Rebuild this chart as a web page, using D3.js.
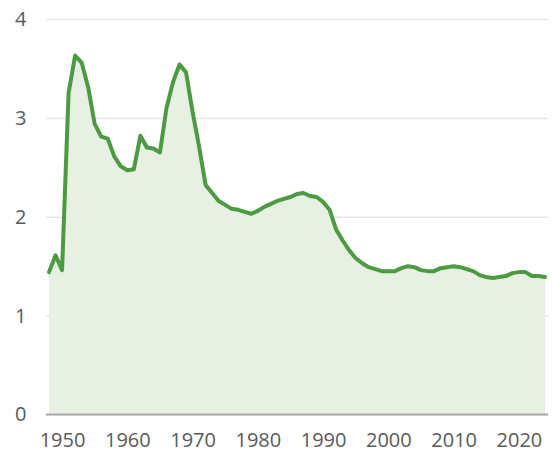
<!DOCTYPE html>
<html>
<head>
<meta charset="utf-8">
<script src="https://cdn.jsdelivr.net/npm/d3@7"></script>
<style>
  body { margin: 0; background: #fff; }
  svg text { font-family: "Open Sans", sans-serif; }
</style>
</head>
<body>
<div id="chart"></div>
<script>
var years = d3.range(1948, 2025);

var values = [
    1.44, 1.61, 1.46, 3.25, 3.63, 3.56, 3.31, 2.94, 2.81, 2.79, // 1948-1957
    2.61, 2.51, 2.47, 2.48, 2.82, 2.70, 2.69, 2.65, 3.10, 3.36, // 1958-1967
    3.54, 3.46, 3.06, 2.71, 2.32, 2.24, 2.16, 2.12, 2.08, 2.07, // 1968-1977
    2.05, 2.03, 2.06, 2.10, 2.13, 2.16, 2.18, 2.20, 2.23, 2.24, // 1978-1987
    2.21, 2.20, 2.15, 2.07, 1.87, 1.76, 1.66, 1.58, 1.53, 1.49, // 1988-1997
    1.47, 1.45, 1.45, 1.45, 1.48, 1.50, 1.49, 1.46, 1.45, 1.45, // 1998-2007
    1.48, 1.49, 1.50, 1.49, 1.47, 1.45, 1.41, 1.39, 1.38, 1.39, // 2008-2017
    1.40, 1.43, 1.44, 1.44, 1.40, 1.40, 1.39                    // 2018-2024
];

var xTicks = [1950, 1960, 1970, 1980, 1990, 2000, 2010, 2020];
var yTicks = [0, 1, 2, 3, 4];

var width = 552,
    height = 453;

var data = years.map(function(y, i) {
    return { year: y, value: values[i] };
});

var svg = d3.select('#chart').append('svg')
    .attr('width', width)
    .attr('height', height);

var x = d3.scaleLinear()
    .domain([1948, 2024])
    .range([49, 545]);

var y = d3.scaleLinear()
    .domain([0, 4])
    .range([414.5, 19]);

// grid + y labels
var yAxis = svg.append('g')
    .attr('transform', 'translate(46,0)')
    .call(d3.axisLeft(y).tickValues(yTicks).tickFormat(d3.format('d'))
        .tickSize(-502).tickPadding(19.5));

yAxis.select('.domain').remove();
yAxis.selectAll('.tick line')
    .attr('stroke', '#e6e6e6')
    .attr('stroke-width', 1.5);
yAxis.selectAll('.tick text')
    .attr('fill', '#5a5a5a')
    .style('font-size', '20px');

var area = d3.area()
    .x(function(d) { return x(d.year); })
    .y0(y(0))
    .y1(function(d) { return y(d.value); });

var line = d3.line()
    .x(function(d) { return x(d.year); })
    .y(function(d) { return y(d.value); });

svg.append('path')
    .datum(data)
    .attr('d', area)
    .attr('fill', '#e8f0e3');

svg.append('path')
    .datum(data)
    .attr('d', line)
    .attr('fill', 'none')
    .attr('stroke', '#4c9a42')
    .attr('stroke-width', 4)
    .attr('stroke-linejoin', 'round')
    .attr('stroke-linecap', 'round');

// baseline
svg.append('line')
    .attr('x1', 46)
    .attr('x2', 548)
    .attr('y1', y(0))
    .attr('y2', y(0))
    .attr('stroke', '#aaaaaa')
    .attr('stroke-width', 2);

var xAxis = svg.append('g')
    .attr('transform', 'translate(0,' + y(0) + ')')
    .call(d3.axisBottom(x).tickValues(xTicks).tickFormat(d3.format('d')).tickSize(0));

xAxis.select('.domain').remove();
xAxis.selectAll('.tick text')
    .attr('dy', null)
    .attr('y', 32)
    .attr('fill', '#5a5a5a')
    .style('font-size', '20px');
</script>
</body>
</html>
